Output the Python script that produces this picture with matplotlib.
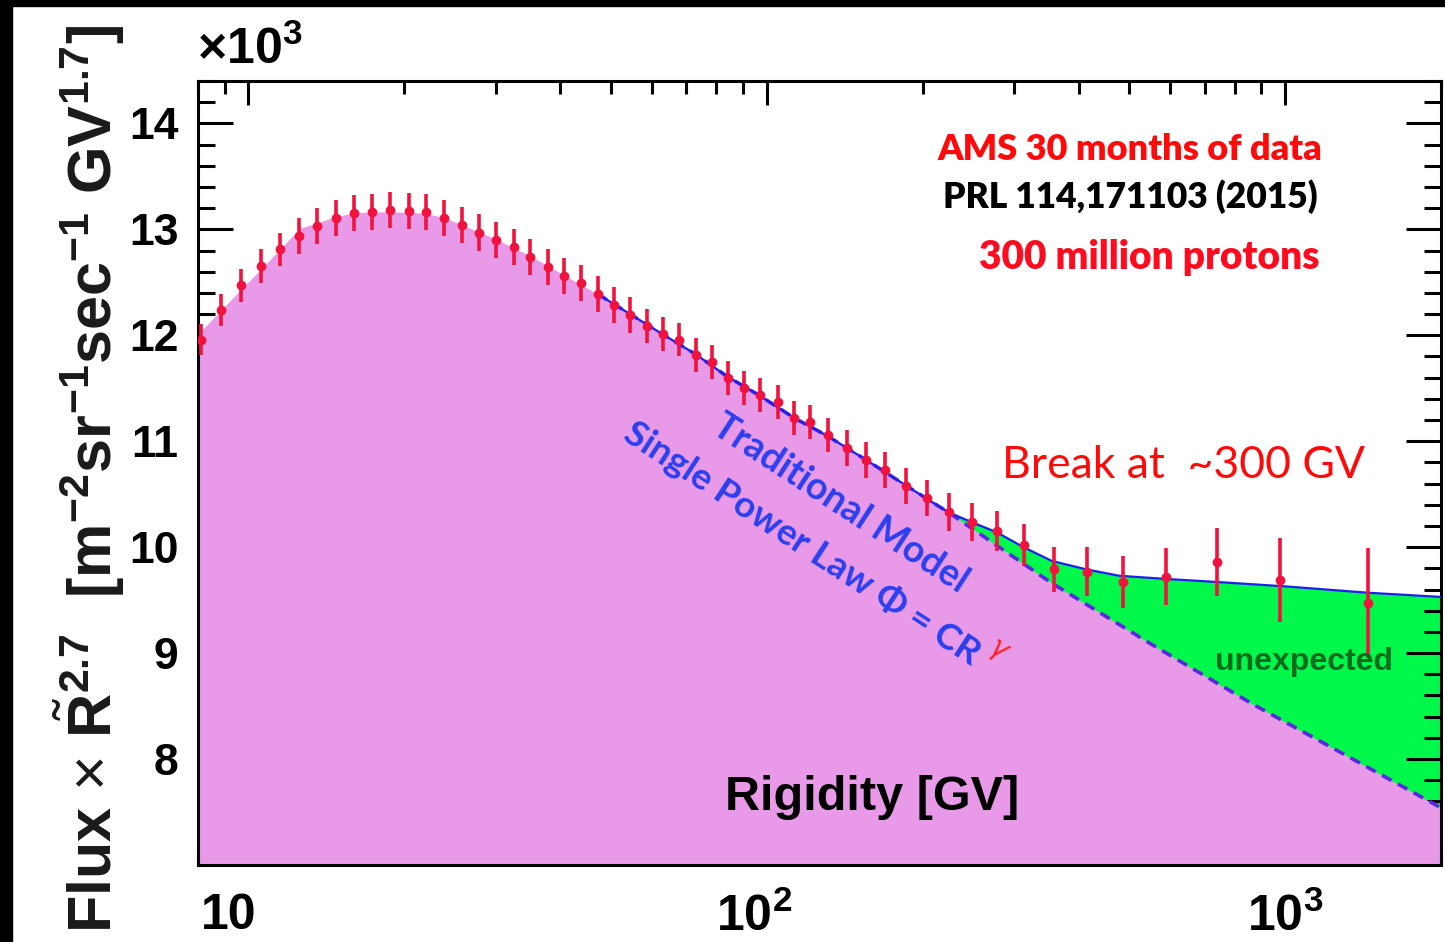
import matplotlib
matplotlib.use("Agg")
import matplotlib.pyplot as plt
from matplotlib.patches import Rectangle
from matplotlib.ticker import MultipleLocator, LogLocator, NullFormatter
from matplotlib.transforms import ScaledTranslation

plt.rcParams['font.family'] = 'Liberation Sans'
plt.rcParams['mathtext.fontset'] = 'custom'
plt.rcParams['mathtext.rm'] = 'Liberation Sans'
plt.rcParams['mathtext.bf'] = 'Liberation Sans:bold'
plt.rcParams['mathtext.it'] = 'Liberation Sans:italic'

# AMS proton flux x R^2.7 (units of 10^3)
data_R = [8.12, 8.87, 9.67, 10.56, 11.5, 12.52, 13.57, 14.75, 16.0, 17.3,
          18.8, 20.4, 22.0, 23.9, 25.9, 27.9, 30.1, 32.5, 35.0, 37.8,
          40.6, 43.8, 47.2, 50.8, 54.5, 58.66, 63.06, 67.8, 72.95, 78.3,
          84.1, 90.6, 97.3, 105.1, 113.0, 121.5, 131.3, 142.7, 155.6, 169.5,
          185.5, 203.7, 224.4, 248.7, 278.3, 313.3, 358.6, 414.4, 487.6, 590.8,
          738.1, 979, 1444]
data_flux = [11.96, 12.24, 12.47, 12.65, 12.81, 12.94, 13.03, 13.105, 13.15, 13.165,
             13.18, 13.17, 13.16, 13.11, 13.04, 12.97, 12.90, 12.83, 12.74, 12.64,
             12.56, 12.49, 12.39, 12.29, 12.19, 12.09, 12.01, 11.96, 11.81, 11.75,
             11.60, 11.50, 11.44, 11.37, 11.22, 11.18, 11.06, 10.94, 10.82, 10.73,
             10.58, 10.46, 10.33, 10.24, 10.15, 10.02, 9.79, 9.77, 9.67, 9.72,
             9.86, 9.69, 9.47]
data_err = [0.15, 0.15, 0.16, 0.16, 0.16, 0.17, 0.17, 0.17, 0.17, 0.17,
            0.17, 0.17, 0.17, 0.17, 0.17, 0.17, 0.17, 0.17, 0.17, 0.17,
            0.17, 0.17, 0.17, 0.17, 0.17, 0.16, 0.16, 0.16, 0.16, 0.16,
            0.16, 0.16, 0.16, 0.16, 0.16, 0.16, 0.16, 0.17, 0.17, 0.17,
            0.17, 0.17, 0.18, 0.18, 0.19, 0.20, 0.21, 0.23, 0.245, 0.27,
            0.32, 0.40, 0.52]

# traditional model (single power law), upper edge of the pink area
model_R = [8.0, 8.87, 9.67, 10.56, 11.5, 12.57, 13.57, 14.75, 16.0, 17.3,
           18.8, 20.4, 22.0, 23.9, 25.9, 30.0, 35.0, 40.6, 47.2, 54.5,
           63.0, 73.0, 84.0, 97.0, 113, 131, 156, 186, 224, 355,
           554, 865, 1351, 2000]
model_flux = [12.01, 12.24, 12.43, 12.62, 12.81, 13.01, 13.06, 13.12, 13.155, 13.165,
              13.165, 13.16, 13.15, 13.11, 13.04, 12.91, 12.75, 12.57, 12.39, 12.20,
              12.01, 11.82, 11.61, 11.43, 11.22, 11.05, 10.82, 10.58, 10.33, 9.66,
              9.08, 8.52, 8.00, 7.54]

# fit with the break, upper edge of the green area
break_R = [224, 249, 278, 313, 355, 414, 479, 590, 747, 1000, 1444, 2000]
break_flux = [10.33, 10.235, 10.14, 10.0, 9.87, 9.79, 9.73, 9.70, 9.67, 9.63, 9.57, 9.53]

W, H = 1445, 942


def px(x, y):
    return x / W, 1 - y / H


fig = plt.figure(figsize=(W / 100, H / 100), dpi=100)
ax = fig.add_axes([198 / W, 1 - 865 / H, (1441 - 198) / W, (865 - 81) / H])
ymin, ymax = 7.0, 14.4
ax.set_xscale('log')
ax.set_xlim(8.0, 2000)
ax.set_ylim(ymin, ymax)

ax.fill_between(break_R, break_flux, ymin, color='#00f84a', lw=0, zorder=1)
ax.fill_between(model_R, model_flux, ymin, color='#e89ae8', lw=0, zorder=2)

dash_R = [r for r in model_R if r >= 47]
dash_f = [f for r, f in zip(model_R, model_flux) if r >= 47]
ax.plot(dash_R, dash_f, ls=(0, (3, 2)), color='#5a28e0', lw=2.6, zorder=3)

fit_R = [r for r in model_R if 47 <= r < 224] + break_R
fit_f = [f for r, f in zip(model_R, model_flux) if 47 <= r < 224] + break_flux
ax.plot(fit_R, fit_f, color='#2020ee', lw=1.6, zorder=4)

ax.errorbar(data_R, data_flux, yerr=data_err, fmt='o', ms=6, color='#f2123e',
            elinewidth=2.6, capsize=0, zorder=5)

# axes in ROOT style
for s in ax.spines.values():
    s.set_linewidth(2.2)
ax.set_yticks([8, 9, 10, 11, 12, 13, 14])
ax.set_yticklabels(['8', '9', '10', '11', '12', '13', '14'], fontsize=32, fontweight='bold')
ax.yaxis.set_minor_locator(MultipleLocator(0.2))
ax.set_xticks([10, 100, 1000])
ax.set_xticklabels(['10', r'$\mathbf{10^{2}}$', r'$\mathbf{10^{3}}$'], fontsize=36, fontweight='bold')
ax.xaxis.set_minor_locator(LogLocator(base=10, subs=[2, 3, 4, 5, 6, 7, 8, 9]))
ax.xaxis.set_minor_formatter(NullFormatter())
ax.tick_params(which='both', direction='in', top=True, right=True, width=2.2, color='black')
ax.tick_params(axis='y', which='major', length=25, pad=14)
ax.tick_params(axis='y', which='minor', length=12)
ax.tick_params(axis='x', which='major', length=17, pad=20)
ax.tick_params(axis='x', which='minor', length=9.5)
# ROOT puts the first labels a bit to the left of their ticks
for lab, dx in zip(ax.get_xticklabels(), [-20, -12, 0]):
    lab.set_transform(lab.get_transform() + ScaledTranslation(dx / 100, 0, fig.dpi_scale_trans))

fig.text(*px(250, 50), r'$\mathbf{\times10^{3}}$', fontsize=36, ha='center', va='center')
fig.text(*px(90, 479),
         r'Flux $\times$ $\tilde{\mathbf{R}}^{\mathbf{2.7}}$  [m$^{\mathbf{-2}}$sr$^{\mathbf{-1}}$sec$^{\mathbf{-1}}$ GV$^{\mathbf{1.7}}$]',
         fontsize=44, fontweight='bold', rotation=90, ha='center', va='center', color='#1a1a1a')

fig.text(*px(872, 798), 'Rigidity [GV]', fontsize=35, fontweight='bold', ha='center', va='center')
fig.text(*px(1304, 662), 'unexpected', fontsize=23, fontweight='bold', color='#0a6a1e',
         ha='center', va='center', zorder=6)

lato = ['Lato', 'DejaVu Sans']
fig.text(*px(1130, 150), 'AMS 30 months of data', family=lato, fontsize=26, fontweight='heavy',
         color='#ff0a0a', ha='center', va='center')
fig.text(*px(1130, 197), 'PRL 114,171103 (2015)', family=lato, fontsize=25.5, fontweight='heavy',
         color='black', ha='center', va='center')
fig.text(*px(1149, 258), '300 million protons', family=lato, fontsize=28, fontweight='heavy',
         color='#ff0a1e', ha='center', va='center')
fig.text(*px(1183, 466), 'Break at  ~300 GV', family=lato, fontsize=32,
         color='#ff0a0a', ha='center', va='center')
fig.text(*px(840, 504), 'Traditional Model', family=lato, fontsize=27, fontweight='bold',
         color='#2b3ff0', rotation=-33, rotation_mode='anchor', ha='center', va='center', zorder=6)
fig.text(*px(802, 543), 'Single Power Law Φ = CR', family=lato, fontsize=26.5, fontweight='bold',
         color='#2b3ff0', rotation=-33, rotation_mode='anchor', ha='center', va='center', zorder=6)
fig.text(*px(998, 650), 'γ', family=['DejaVu Sans'], fontsize=20, style='italic',
         color='#ff2020', rotation=-33, rotation_mode='anchor', ha='center', va='center', zorder=6)

# black borders of the slide crop
fig.add_artist(Rectangle((0, 0), 12 / W, 1, transform=fig.transFigure, color='black'))
fig.add_artist(Rectangle((0, 1 - 6 / H), 1, 6 / H, transform=fig.transFigure, color='black'))

fig.savefig('out.png', dpi=100)
